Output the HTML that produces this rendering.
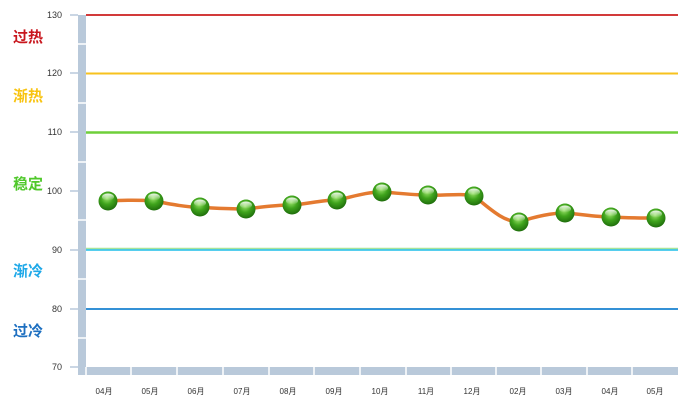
<!DOCTYPE html>
<html><head><meta charset="utf-8"><style>
body{margin:0;background:#fff;width:693px;height:411px;overflow:hidden}
svg text{font-family:"Liberation Sans","Noto Sans CJK SC",sans-serif}
</style></head><body>
<svg width="693" height="411" xmlns="http://www.w3.org/2000/svg">
<defs>
<radialGradient id="g" cx="0.45" cy="0.35" r="0.65">
<stop offset="0" stop-color="#9be36a"/><stop offset="0.5" stop-color="#3fa41c"/><stop offset="1" stop-color="#1f6e0c"/>
</radialGradient>
<linearGradient id="h" x1="0" y1="0" x2="0" y2="1"><stop offset="0" stop-color="#fff" stop-opacity="0.9"/><stop offset="1" stop-color="#fff" stop-opacity="0"/></linearGradient>
</defs>
<!-- axis bars -->
<rect x="78" y="15" width="8" height="360" fill="#b9c9da"/>
<rect x="86" y="367" width="592" height="8" fill="#b9c9da"/>
<g stroke="#fff" stroke-width="1.5">
<line x1="78" y1="44" x2="86" y2="44"/><line x1="78" y1="103" x2="86" y2="103"/><line x1="78" y1="162" x2="86" y2="162"/><line x1="78" y1="220" x2="86" y2="220"/><line x1="78" y1="279" x2="86" y2="279"/><line x1="78" y1="338" x2="86" y2="338"/>
<line x1="86" y1="367" x2="86" y2="375"/><line x1="131" y1="367" x2="131" y2="375"/><line x1="177" y1="367" x2="177" y2="375"/><line x1="223" y1="367" x2="223" y2="375"/><line x1="269" y1="367" x2="269" y2="375"/><line x1="314" y1="367" x2="314" y2="375"/><line x1="360" y1="367" x2="360" y2="375"/><line x1="406" y1="367" x2="406" y2="375"/><line x1="451" y1="367" x2="451" y2="375"/><line x1="496" y1="367" x2="496" y2="375"/><line x1="541" y1="367" x2="541" y2="375"/><line x1="587" y1="367" x2="587" y2="375"/><line x1="632" y1="367" x2="632" y2="375"/>
</g>
<g stroke="#b9c9da" stroke-width="1.5">
<line x1="70" y1="15" x2="78" y2="15"/><line x1="70" y1="73" x2="78" y2="73"/><line x1="70" y1="132" x2="78" y2="132"/><line x1="70" y1="191" x2="78" y2="191"/><line x1="70" y1="250" x2="78" y2="250"/><line x1="70" y1="309" x2="78" y2="309"/><line x1="70" y1="367" x2="78" y2="367"/>
</g>
<!-- threshold lines -->
<line x1="86" y1="15" x2="678" y2="15" stroke="#d23a3a" stroke-width="2"/>
<line x1="86" y1="73.5" x2="678" y2="73.5" stroke="#f7c21e" stroke-width="2"/>
<line x1="86" y1="132.5" x2="678" y2="132.5" stroke="#6fcf3a" stroke-width="2.5"/>
<line x1="86" y1="248.5" x2="678" y2="248.5" stroke="#a8e49a" stroke-width="1.5"/>
<line x1="86" y1="250" x2="678" y2="250" stroke="#1ebde8" stroke-width="1.5"/>
<line x1="86" y1="309" x2="678" y2="309" stroke="#3491d6" stroke-width="2"/>
<!-- y labels -->
<g font-size="9" fill="#333" text-anchor="end">
<text x="62" y="18">130</text><text x="62" y="76">120</text><text x="62" y="135">110</text><text x="62" y="194">100</text><text x="62" y="253">90</text><text x="62" y="312">80</text><text x="62" y="370">70</text>
</g>
<g font-size="15" font-weight="bold">
<text x="13" y="42" fill="#c8161d">过热</text>
<text x="13" y="101" fill="#f8c310">渐热</text>
<text x="13" y="189" fill="#4fc82a">稳定</text>
<text x="13" y="276" fill="#1ea8e8">渐冷</text>
<text x="13" y="336" fill="#1d6fc0">过冷</text>
</g>
<!-- x labels -->
<g font-size="8" fill="#333" text-anchor="middle">
<text x="104" y="394">04月</text><text x="150" y="394">05月</text><text x="196" y="394">06月</text><text x="242" y="394">07月</text><text x="288" y="394">08月</text><text x="334" y="394">09月</text><text x="380" y="394">10月</text><text x="426" y="394">11月</text><text x="472" y="394">12月</text><text x="518" y="394">02月</text><text x="564" y="394">03月</text><text x="610" y="394">04月</text><text x="655" y="394">05月</text>
</g>
<!-- series -->
<path d="M108,201 C125,200 140,200 154,201 C170,204 185,207 200,207.5 C215,208 230,209 246,209 C262,207 275,205 292,205 C307,204 322,200 337,200 C352,197 366,192 382,192 C397,193 412,195 428,195 C443,196 460,193 474,196 C488,207 503,222 519,222 C534,217 550,213 565,213 C580,214 595,217 611,217 C626,218 642,218 656,218" fill="none" stroke="#e47a30" stroke-width="3.5"/>
<g>
<g transform="translate(108,201)"><circle r="9.5" fill="url(#g)"/><ellipse cy="-4" rx="6" ry="3.5" fill="url(#h)"/></g>
<g transform="translate(154,201)"><circle r="9.5" fill="url(#g)"/><ellipse cy="-4" rx="6" ry="3.5" fill="url(#h)"/></g>
<g transform="translate(200,207)"><circle r="9.5" fill="url(#g)"/><ellipse cy="-4" rx="6" ry="3.5" fill="url(#h)"/></g>
<g transform="translate(246,209)"><circle r="9.5" fill="url(#g)"/><ellipse cy="-4" rx="6" ry="3.5" fill="url(#h)"/></g>
<g transform="translate(292,205)"><circle r="9.5" fill="url(#g)"/><ellipse cy="-4" rx="6" ry="3.5" fill="url(#h)"/></g>
<g transform="translate(337,200)"><circle r="9.5" fill="url(#g)"/><ellipse cy="-4" rx="6" ry="3.5" fill="url(#h)"/></g>
<g transform="translate(382,192)"><circle r="9.5" fill="url(#g)"/><ellipse cy="-4" rx="6" ry="3.5" fill="url(#h)"/></g>
<g transform="translate(428,195)"><circle r="9.5" fill="url(#g)"/><ellipse cy="-4" rx="6" ry="3.5" fill="url(#h)"/></g>
<g transform="translate(474,196)"><circle r="9.5" fill="url(#g)"/><ellipse cy="-4" rx="6" ry="3.5" fill="url(#h)"/></g>
<g transform="translate(519,222)"><circle r="9.5" fill="url(#g)"/><ellipse cy="-4" rx="6" ry="3.5" fill="url(#h)"/></g>
<g transform="translate(565,213)"><circle r="9.5" fill="url(#g)"/><ellipse cy="-4" rx="6" ry="3.5" fill="url(#h)"/></g>
<g transform="translate(611,217)"><circle r="9.5" fill="url(#g)"/><ellipse cy="-4" rx="6" ry="3.5" fill="url(#h)"/></g>
<g transform="translate(656,218)"><circle r="9.5" fill="url(#g)"/><ellipse cy="-4" rx="6" ry="3.5" fill="url(#h)"/></g>
</g>
</svg>
</body></html>
